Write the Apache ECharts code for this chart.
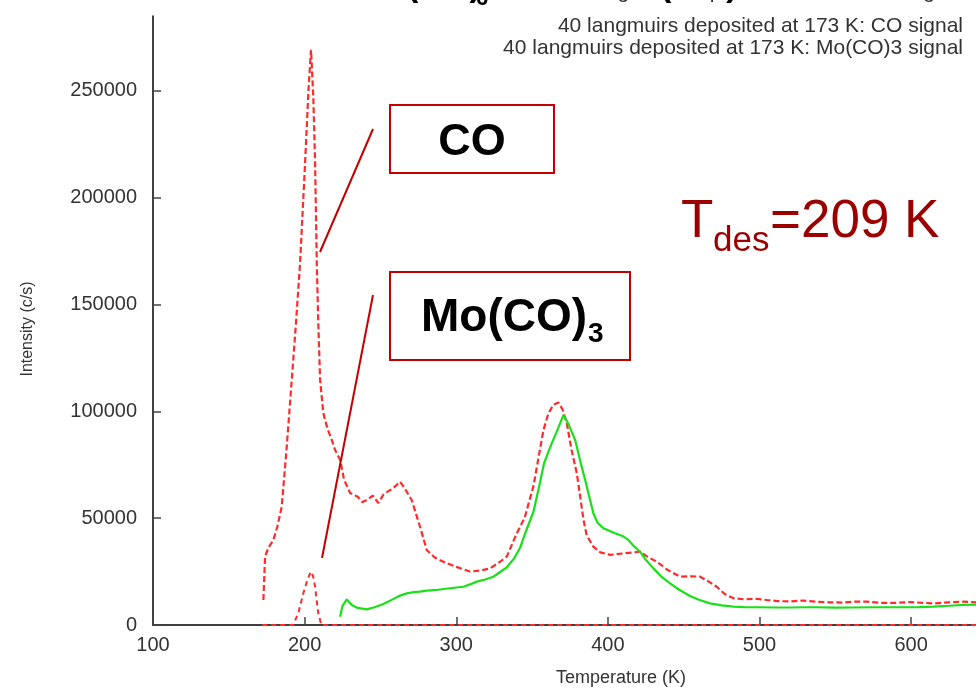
<!DOCTYPE html>
<html><head><meta charset="utf-8">
<script src="https://cdn.jsdelivr.net/npm/echarts@6/dist/echarts.min.js"></script>
<style>html,body{margin:0;padding:0;background:#fff}#c{width:976px;height:689px}</style>
</head><body><div id="c"></div>
<script>
// ---- data ----
const seriesNames = [
  "40 langmuirs deposited at 173 K: Mo signal",
  "40 langmuirs deposited at 173 K: CO signal",
  "40 langmuirs deposited at 173 K: Mo(CO)3 signal"
];
const xTicks = [100, 200, 300, 400, 500, 600];
const yTicks = [0, 50000, 100000, 150000, 200000, 250000];

// first (cut-off) legend series: small peak near 204 K
const tempA = [172, 180, 190, 192.5, 196, 199.2, 202, 204.2, 205.5, 206.9, 208, 209, 211, 220, 260, 300, 350, 400, 450, 500, 550, 600, 650];
const valA  = [0, 0, 0, 0, 6000, 15000, 21500, 25000, 23000, 18000, 11000, 5600, 0, 0, 0, 0, 0, 0, 0, 0, 0, 0, 0];

// CO signal
const tempCO = [172.8,173.9,176,179.4,182,184.9,188.2,191.5,194.3,197,200.3,202.5,204.2,205.7,206.9,208,209,210.2,212.3,215,217.9,220,223.4,226,230,235,238,241,245,248.6,252,255,258.5,262.9,266,270.6,276.1,280.5,286,291.5,300,309,316,322.3,328.9,333.3,339.9,345,350.9,357.5,360.8,364,367.4,370,372.9,376,379.5,383.9,386,390.4,395,401.5,410,421.2,426,432.2,440,447.6,455,460.8,466,471.8,477,482.8,490,497,504.8,512,520,528,537.8,546,555,563,570.8,580,590,600,614.7,625,634.5,645];
const valCO = [11700,32000,36000,39800,46000,55400,83500,114700,141400,169500,216300,250000,269200,247400,216300,169500,141400,114700,99200,92000,86600,82000,77300,68000,61800,60000,57500,58500,60500,57100,61000,62500,64100,67100,64000,58500,46000,35100,31500,29600,27200,25000,25500,26500,29600,32000,42900,50000,65000,91300,99100,103000,104100,101000,94400,82000,71000,49200,42000,36700,34000,32800,33500,34300,32000,29600,25500,22600,22800,22600,20500,17900,14500,12500,12000,12300,11700,11200,11000,11400,10900,10600,10500,11000,10900,10400,10400,10700,10100,10600,10900,10500];

// Mo(CO)3 signal
const tempMo = [223.4,225,227.8,229.5,231.1,235,241,246,251.9,258,262,267.4,272,276,280.5,288,295.9,304.7,309,313.5,319,324.5,328.9,333.3,338,342,346,350.9,355,358,363,366,370.7,374,378.4,382,385,390.4,393,397,404.7,410,413.5,417,421.2,425,430,435,441,447,454.2,460,467.4,475,482.8,490,500,510,520,530,537.8,550,560,575,592.7,605,615,625,634.5,645];
const valMo = [3900,9000,12000,10500,9400,8000,7300,8300,9800,12000,13500,14800,15400,15600,16100,16500,17200,17900,19000,20300,21300,22600,24800,27000,31000,36000,44000,53000,66000,76000,85100,90000,98300,94000,86600,76000,67900,52300,48000,45300,42900,41500,39800,37000,34300,30500,26500,22800,19500,16500,13600,11800,10100,9200,8600,8400,8300,8200,8200,8300,8300,8100,8200,8300,8300,8400,8600,9000,9400,9500];

const zip = (xs, ys) => xs.map((x, i) => [x, ys[i]]);
const FONT = "'Liberation Sans', Arial, Helvetica, sans-serif";

const chart = echarts.init(document.getElementById('c'), null, {renderer: 'canvas'});
const axisCommon = {
  axisLine: {show: true, onZero: false, lineStyle: {color: '#000', width: 1.5}},
  splitLine: {show: false}
};
const tickStyle = {show: true, inside: true, length: 8, lineStyle: {color: '#444', width: 1.5}};
chart.setOption({
  animation: false,
  backgroundColor: '#fff',
  grid: {left: 153, right: -11, top: 16, bottom: 64, outerBoundsMode: 'none', containLabel: false},
  xAxis: Object.assign({
    type: 'value', min: 100, max: 650, interval: 100,
    axisTick: Object.assign({customValues: xTicks}, tickStyle),
    axisLabel: {customValues: xTicks, formatter: v => String(v), color: '#333', fontSize: 20, fontFamily: FONT, margin: 10}
  }, axisCommon),
  yAxis: Object.assign({
    type: 'value', min: 0, max: 285000, interval: 50000,
    axisTick: Object.assign({customValues: yTicks}, tickStyle),
    axisLabel: {customValues: yTicks, formatter: v => String(v), color: '#333', fontSize: 20, fontFamily: FONT, margin: 16}
  }, axisCommon),
  series: [
    {name: seriesNames[0], type: 'line', data: zip(tempA, valA), showSymbol: false,
     lineStyle: {color: '#ff2a2a', width: 2, type: [5, 4]}, z: 2},
    {name: seriesNames[1], type: 'line', data: zip(tempCO, valCO), showSymbol: false,
     lineStyle: {color: '#ff2a2a', width: 2.2, type: [6, 3]}, z: 3},
    {name: seriesNames[2], type: 'line', data: zip(tempMo, valMo), showSymbol: false,
     lineStyle: {color: '#19e019', width: 2.2}, z: 4}
  ],
  graphic: [
    // title (mostly cut off at the top)
    {type: 'text', left: 358, top: -30, z: 10, style: {text: 'Mo(CO)', font: "bold 34px " + FONT, fill: '#000'}},
    {type: 'text', left: 476, top: -12, z: 10, style: {text: '6', font: "bold 22px " + FONT, fill: '#000'}},
    {type: 'text', left: 500, top: -30, z: 10, style: {text: ' on Cu', font: "bold 34px " + FONT, fill: '#000'}},
    {type: 'text', left: 660, top: -30, z: 10, style: {text: '(110)', font: "bold 34px " + FONT, fill: '#000'}},
    // legend text (samples are off-canvas)
    {type: 'text', right: 13, top: -18, z: 10, style: {text: seriesNames[0], font: "21px " + FONT, fill: '#333'}},
    {type: 'text', right: 13, top: 16, z: 10, style: {text: seriesNames[1], font: "21px " + FONT, fill: '#333'}},
    {type: 'text', right: 13, top: 38, z: 10, style: {text: seriesNames[2], font: "21px " + FONT, fill: '#333'}},
    // axis names
    {type: 'text', x: 621, y: 678, z: 10, style: {text: 'Temperature (K)', font: "18px " + FONT, fill: '#333', align: 'center', verticalAlign: 'middle'}},
    {type: 'text', x: 28, y: 329, rotation: Math.PI / 2, z: 10, style: {text: 'Intensity (c/s)', font: "16px " + FONT, fill: '#333', align: 'center', verticalAlign: 'middle'}},
    // CO annotation
    {type: 'rect', z: 10, shape: {x: 390, y: 105, width: 164, height: 68}, style: {fill: 'none', stroke: '#c40000', lineWidth: 2}},
    {type: 'text', x: 472, y: 143, z: 10, style: {text: 'CO', font: "bold 45px " + FONT, fill: '#000', align: 'center', verticalAlign: 'middle'}},
    {type: 'line', z: 10, shape: {x1: 373, y1: 129, x2: 320, y2: 252}, style: {stroke: '#c40000', lineWidth: 2}},
    // Mo(CO)3 annotation
    {type: 'rect', z: 10, shape: {x: 390, y: 272, width: 240, height: 88}, style: {fill: 'none', stroke: '#c40000', lineWidth: 2}},
    {type: 'text', x: 421, y: 318, z: 10, style: {text: 'Mo(CO)', font: "bold 46px " + FONT, fill: '#000', align: 'left', verticalAlign: 'middle'}},
    {type: 'text', x: 588, y: 334, z: 10, style: {text: '3', font: "bold 28px " + FONT, fill: '#000', align: 'left', verticalAlign: 'middle'}},
    {type: 'line', z: 10, shape: {x1: 373, y1: 295, x2: 322, y2: 558}, style: {stroke: '#c40000', lineWidth: 2}},
    // T_des
    {type: 'text', x: 681, y: 222, z: 10, style: {text: 'T', font: "53px " + FONT, fill: '#9a0000', align: 'left', verticalAlign: 'middle'}},
    {type: 'text', x: 713, y: 241, z: 10, style: {text: 'des', font: "35px " + FONT, fill: '#9a0000', align: 'left', verticalAlign: 'middle'}},
    {type: 'text', x: 770, y: 222, z: 10, style: {text: '=209 K', font: "53px " + FONT, fill: '#9a0000', align: 'left', verticalAlign: 'middle'}}
  ]
});
</script>
</body></html>
